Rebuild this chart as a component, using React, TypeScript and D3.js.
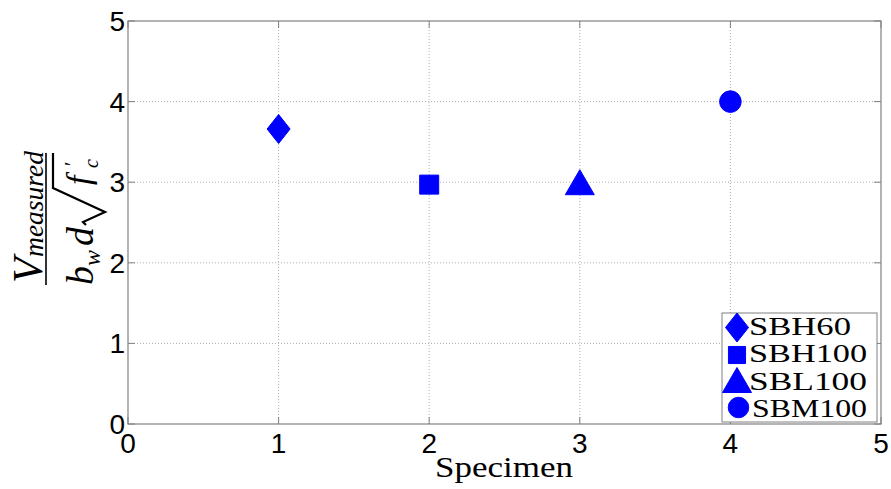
import React from "react";
import * as d3 from "d3";

const xTicks = [0, 1, 2, 3, 4, 5];
const yTicks = [0, 1, 2, 3, 4, 5];
const specimens = ["SBH60", "SBH100", "SBL100", "SBM100"];
const xValues = [1, 2, 3, 4];
const yValues = [3.66, 2.97, 3.0, 4.0];
const shapes = ["diamond", "square", "triangle", "circle"];

const W = 891, H = 489;
const M = { left: 128, right: 881, top: 21, bottom: 424 };
const BLUE = "#0000ff";

function markerPath(shape: string, cx: number, cy: number, s = 1): string {
  if (shape === "diamond") {
    const w = 11.5 * s, h = 14.5 * s;
    return `M${cx},${cy - h}L${cx + w},${cy}L${cx},${cy + h}L${cx - w},${cy}Z`;
  }
  if (shape === "square") {
    const h = 9.5 * s;
    return `M${cx - h},${cy - h}H${cx + h}V${cy + h}H${cx - h}Z`;
  }
  if (shape === "triangle") {
    const w = 14.5 * s, h = 12.5 * s;
    return `M${cx},${cy - h}L${cx + w},${cy + h}L${cx - w},${cy + h}Z`;
  }
  const r = 10.8 * s;
  return `M${cx - r},${cy}A${r},${r} 0 1,0 ${cx + r},${cy}A${r},${r} 0 1,0 ${cx - r},${cy}Z`;
}

export default function App() {
  const x = d3.scaleLinear().domain([0, 5]).range([M.left, M.right]);
  const y = d3.scaleLinear().domain([0, 5]).range([M.bottom, M.top]);
  const serif = "'Liberation Serif', 'Times New Roman', serif";
  const sans = "'Liberation Sans', Arial, sans-serif";
  const gridColor = "#b0b0b0";
  const axisColor = "#808080";

  const legendX = 722, legendY = 313, legendW = 155, legendH = 109;
  const rowY = [327.5, 355, 380, 407.5];

  return (
    <svg width={W} height={H} style={{ position: "absolute", left: 0, top: 0, background: "#fff" }}>
      <rect x={0} y={0} width={W} height={H} fill="#fff" />
      {/* grid */}
      {xTicks.slice(1, -1).map((t) => (
        <line key={"gx" + t} x1={x(t)} x2={x(t)} y1={M.top} y2={M.bottom}
          stroke={gridColor} strokeWidth={1} strokeDasharray="1,2" />
      ))}
      {yTicks.slice(1, -1).map((t) => (
        <line key={"gy" + t} x1={M.left} x2={M.right} y1={y(t)} y2={y(t)}
          stroke={gridColor} strokeWidth={1} strokeDasharray="1,2" />
      ))}
      {/* box */}
      <rect x={M.left} y={M.top} width={M.right - M.left} height={M.bottom - M.top}
        fill="none" stroke={axisColor} strokeWidth={1.2} />
      {/* ticks */}
      {xTicks.map((t) => (
        <g key={"tx" + t}>
          <line x1={x(t)} x2={x(t)} y1={M.bottom} y2={M.bottom - 7} stroke={axisColor} />
          <line x1={x(t)} x2={x(t)} y1={M.top} y2={M.top + 7} stroke={axisColor} />
          <text x={x(t)} y={453} textAnchor="middle" fontFamily={sans} fontSize={28} fill="#000">{t}</text>
        </g>
      ))}
      {yTicks.map((t) => (
        <g key={"ty" + t}>
          <line x1={M.left} x2={M.left + 7} y1={y(t)} y2={y(t)} stroke={axisColor} />
          <line x1={M.right} x2={M.right - 7} y1={y(t)} y2={y(t)} stroke={axisColor} />
          <text x={125} y={y(t) + 10} textAnchor="end" fontFamily={sans} fontSize={28} fill="#000">{t}</text>
        </g>
      ))}
      {/* data markers */}
      {xValues.map((v, i) => (
        <path key={"m" + i} d={markerPath(shapes[i], x(v), y(yValues[i]))} fill={BLUE} stroke={BLUE} strokeWidth={1} />
      ))}
      {/* x label */}
      <text x={435} y={477} fontFamily={serif} fontSize={30} textLength={138} lengthAdjust="spacingAndGlyphs" fill="#000">Specimen</text>
      {/* y label (rotated fraction) */}
      <g transform="translate(46,219) rotate(-90)" fontFamily={serif} fill="#000">
        <line x1={-66} x2={66} y1={0} y2={0} stroke="#000" strokeWidth={1.6} />
        <text x={-64} y={-4} fontStyle="italic" fontSize={42}>V</text>
        <text x={-38} y={-3} fontStyle="italic" fontSize={27} textLength={106} lengthAdjust="spacingAndGlyphs">measured</text>
        <text x={-66} y={47} fontStyle="italic" fontSize={38}>b</text>
        <text x={-47} y={54} fontStyle="italic" fontSize={24}>w</text>
        <text x={-27} y={47} fontStyle="italic" fontSize={38}>d</text>
        <path d="M-6,40 L-3,37 L7,59 L31,7 L66,7" fill="none" stroke="#000" strokeWidth={2.2} strokeLinejoin="miter" />
        <text x={34} y={44} fontStyle="italic" fontSize={34}>f</text>
        <text x={53} y={33} fontSize={20}>′</text>
        <text x={51} y={52} fontStyle="italic" fontSize={20}>c</text>
      </g>
      {/* legend */}
      <rect x={legendX} y={legendY} width={legendW} height={legendH} fill="#fff" stroke={axisColor} strokeWidth={1} />
      {specimens.map((s, i) => (
        <g key={"l" + s}>
          <path d={markerPath(shapes[i], i === 3 ? 738.5 : 737, rowY[i], i === 1 ? 0.9 : i === 3 ? 0.95 : 1)} fill={BLUE} stroke={BLUE} strokeWidth={1} />
          <text x={i === 3 ? 752 : 749} y={335 + i * 27.3} fontFamily={serif} fontSize={26}
            textLength={i === 0 ? 102 : i === 3 ? 115 : 118} lengthAdjust="spacingAndGlyphs" fill="#000">{s}</text>
        </g>
      ))}
    </svg>
  );
}
